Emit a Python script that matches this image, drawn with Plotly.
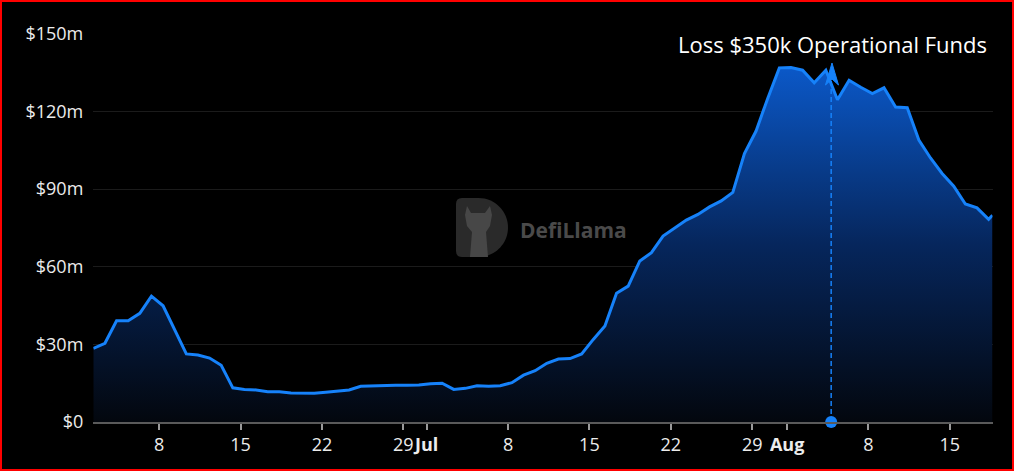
import pandas as pd
import plotly.graph_objects as go

# ---------------- data ----------------
tvl_m = [28.4, 30.4, 39.1, 39.1, 42.0, 48.6, 44.9, 35.7, 26.3, 25.9,
         24.7, 21.9, 13.2, 12.6, 12.4, 11.7, 11.7, 11.2, 11.2, 11.1,
         11.5, 11.9, 12.4, 13.8, 14.0, 14.2, 14.2, 14.2, 14.3, 14.8,
         15.0, 12.6, 13.0, 14.0, 13.8, 14.0, 15.2, 18.1, 19.8, 22.7,
         24.3, 24.5, 26.3, 31.9, 37.1, 49.7, 52.5, 62.2, 65.4, 71.8,
         74.8, 78.0, 80.2, 83.1, 85.4, 88.7, 103.7, 112.4, 125.0, 136.8,
         136.9, 135.9, 131.0, 135.9, 124.5, 132.0, 129.3, 126.9, 129.1, 121.7,
         121.4, 108.9, 102.0, 96.0, 91.1, 84.2, 82.7, 78.3, 79.9]
daily_dates = list(pd.date_range("2023-06-02 08:00", periods=78, freq="D"))
dates = daily_dates + [pd.Timestamp("2023-08-18 16:00")]

event_date = pd.Timestamp("2023-08-04 19:00")
event_label = "Loss $350k Operational Funds"

x_tick_dates = ["2023-06-08", "2023-06-15", "2023-06-22", "2023-06-29", "2023-07-01",
                "2023-07-08", "2023-07-15", "2023-07-22", "2023-07-29", "2023-08-01",
                "2023-08-08", "2023-08-15"]
x_tick_text = ["8", "15", "22", "29", "<b>Jul</b>", "8", "15", "22", "29", "<b>Aug</b>", "8", "15"]
y_tick_vals = [0, 30, 60, 90, 120, 150]
y_tick_text = ["$0", "$30m", "$60m", "$90m", "$120m", "$150m"]

# ---------------- layout helpers ----------------
W, H = 1014, 471
PL, PR, PT, PB = 93.3, 992.5, 33.7, 422.0


def px(x):
    return x / W


def py(y):
    return 1 - y / H


def path(points, close=True):
    s = ""
    for cmd, *coords in points:
        vals = []
        for j in range(0, len(coords), 2):
            vals.append(f"{px(coords[j]):.5f},{py(coords[j+1]):.5f}")
        s += cmd + " " + " ".join(vals) + " "
    if close:
        s += "Z"
    return s


LINE = "rgb(22,130,250)"

fig = go.Figure()

fig.add_trace(go.Scatter(
    x=dates, y=tvl_m, mode="lines",
    line=dict(color=LINE, width=3),
    fill="tozeroy",
    fillgradient=dict(type="vertical",
                      colorscale=[[0, "rgb(3,7,14)"], [0.5, "rgb(6,38,92)"],
                                  [1, "rgb(11,88,200)"]],
                      start=0, stop=137),
    hoverinfo="skip", showlegend=False,
))

# event marker line
fig.add_trace(go.Scatter(
    x=[event_date, event_date], y=[0, 132], mode="lines",
    line=dict(color=LINE, width=1.5, dash="5px,3px"),
    hoverinfo="skip", showlegend=False,
))
fig.add_trace(go.Scatter(
    x=[event_date], y=[0], mode="markers",
    marker=dict(color=LINE, size=12),
    cliponaxis=False, hoverinfo="skip", showlegend=False,
))

shapes = []
# arrow head
shapes.append(dict(
    type="path", xref="paper", yref="paper", layer="above",
    path=path([("M", 832, 63), ("L", 825.5, 85), ("L", 832, 79), ("L", 838.5, 85)]),
    fillcolor=LINE, line=dict(color=LINE, width=1),
))

# watermark logo (D shape)
cx, top, bot, left = 478.5, 198, 257, 456
r = (bot - top) / 2
k = 0.5523 * r
shapes.append(dict(
    type="path", xref="paper", yref="paper", layer="below",
    path=path([("M", left + 6, top), ("L", cx, top),
               ("C", cx + k, top, cx + r, top + r - k, cx + r, top + r),
               ("C", cx + r, top + r + k, cx + k, bot, cx, bot),
               ("L", left + 6, bot),
               ("Q", left, bot, left, bot - 6),
               ("L", left, top + 6),
               ("Q", left, top, left + 6, top)]),
    fillcolor="#2a2a2a", line=dict(width=0),
))
shapes.append(dict(
    type="path", xref="paper", yref="paper", layer="below",
    path=path([("M", 467, 206), ("L", 471, 213), ("L", 485, 213), ("L", 490, 206),
               ("L", 492, 215), ("L", 490, 226), ("L", 486, 232), ("L", 488, 257),
               ("L", 470, 257), ("L", 472, 232), ("L", 467, 226), ("L", 465, 215)]),
    fillcolor="#474747", line=dict(width=0),
))

# red frame
shapes.append(dict(
    type="rect", xref="paper", yref="paper",
    x0=px(1), x1=px(1013), y0=py(470), y1=py(1),
    line=dict(color="#ff0000", width=2), fillcolor="rgba(0,0,0,0)",
))

annotations = [
    dict(xref="paper", yref="paper", x=px(832), y=py(44), text=event_label,
         showarrow=False, xanchor="center", yanchor="middle",
         font=dict(family="Open Sans", size=22, color="#ffffff")),
    dict(xref="paper", yref="paper", x=px(518), y=py(230), text="<b>DefiLlama</b>",
         showarrow=False, xanchor="left", yanchor="middle",
         font=dict(family="Open Sans", size=21, color="#4a4a4a")),
]

fig.update_layout(
    width=W, height=H,
    margin=dict(l=0, r=0, t=0, b=0, autoexpand=False),
    paper_bgcolor="#000000", plot_bgcolor="#000000",
    shapes=shapes, annotations=annotations,
    font=dict(family="Open Sans", color="#ececec", size=18),
    xaxis=dict(
        domain=[px(PL), px(PR)], automargin=False,
        type="date", range=[dates[0], dates[-1]],
        tickvals=x_tick_dates, ticktext=x_tick_text, tickangle=0,
        ticks="outside", ticklen=6, tickcolor="#9a9a9a", tickwidth=1.5,
        showline=True, linecolor="#5a5a5a", linewidth=1.5,
        showgrid=False, zeroline=False,
        tickfont=dict(size=18, color="#ececec"),
    ),
    yaxis=dict(
        domain=[py(PB), py(PT)], automargin=False,
        range=[0, 150],
        tickvals=y_tick_vals, ticktext=y_tick_text,
        showgrid=True, gridcolor="#1b1b1b", gridwidth=1.2,
        zeroline=False, showline=False, ticks="",
        ticklabelstandoff=9,
        tickfont=dict(size=18, color="#ececec"),
    ),
)

fig.write_html(
    "out.html",
    config={"displayModeBar": False},
    post_script=("document.body.style.margin='0';"
                 "document.body.style.padding='0';"
                 "document.body.style.overflow='hidden';"
                 "document.body.style.background='#000';"),
)
